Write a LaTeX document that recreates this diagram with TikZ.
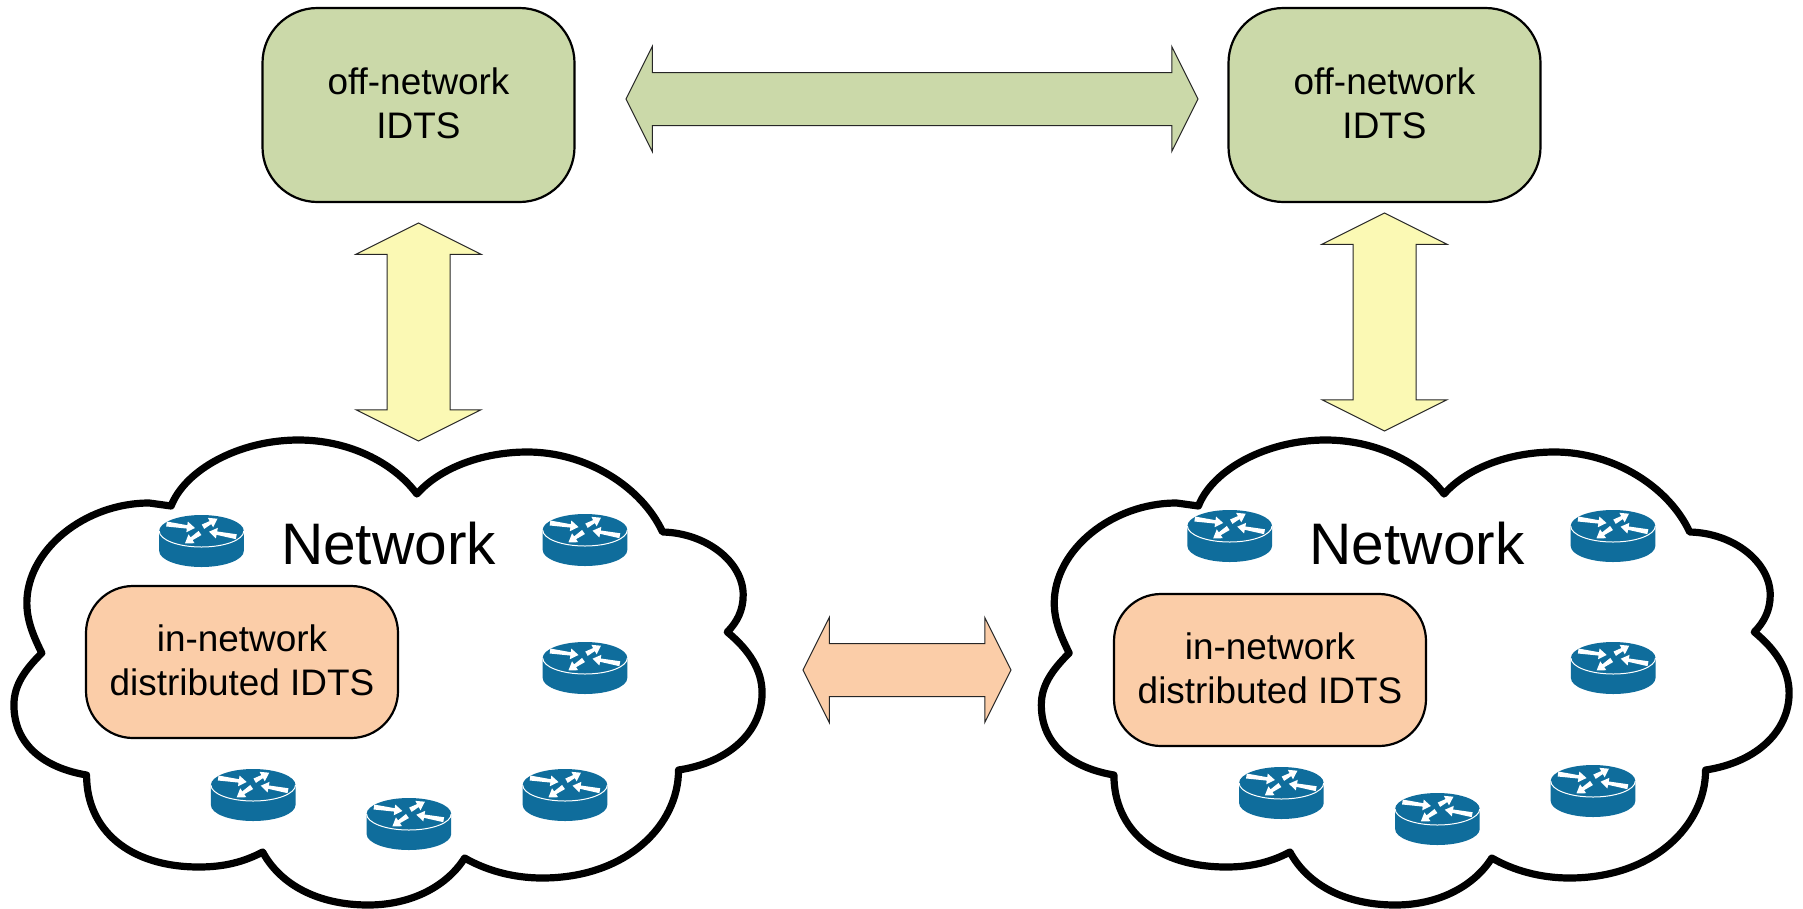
\documentclass[tikz,border=0pt]{standalone}
\usepackage{fontspec}
\setmainfont{Liberation Sans}
\usetikzlibrary{shapes.arrows}
\definecolor{boxgreen}{HTML}{CBD9A9}
\definecolor{boxorange}{HTML}{FBCDA8}
\definecolor{arrowyellow}{HTML}{FBF9B4}
\definecolor{routerblue}{HTML}{0F6D9C}
\tikzset{
  idtsbox/.style={draw=black,line width=2.2pt,rounded corners=55pt,inner sep=0pt,align=center,
    font=\fontsize{36.9}{43.5}\selectfont,minimum width=#1},
  blockarrow/.style={double arrow,draw=black!85,line width=1pt,outer sep=0pt,
    double arrow tip angle=126.87},
  cloudline/.style={draw=black,fill=white,line width=7.2pt,line join=round},
  nettext/.style={font=\fontsize{58.6}{60}\selectfont,inner sep=0pt,anchor=base}
}
\newcommand{\cloudshape}{%
  \path[cloudline] (172,506)
    .. controls (186,470) and (240,440) .. (300,440)
    .. controls (350,440) and (395,462) .. (419,494)
    .. controls (445,465) and (490,452) .. (530,452)
    .. controls (590,452) and (645,487) .. (666,532)
    .. controls (710,533) and (747,562) .. (747,595)
    .. controls (747,610) and (741,622) .. (731,632)
    .. controls (753,650) and (766,670) .. (766,693)
    .. controls (766,730) and (735,762) .. (682,770)
    .. controls (682,825) and (630,878) .. (545,878)
    .. controls (515,878) and (488,870) .. (467,858)
    .. controls (450,885) and (415,905) .. (370,905)
    .. controls (320,905) and (282,885) .. (264,852)
    .. controls (245,862) and (225,867) .. (200,867)
    .. controls (130,867) and (87,830) .. (87,775)
    .. controls (45,768) and (14,745) .. (14,705)
    .. controls (14,685) and (25,670) .. (42,653)
    .. controls (33,635) and (27,620) .. (27,603)
    .. controls (27,550) and (85,503) .. (150,503)
    -- cycle;}
% tapered white arrow inside a router: tail x,y then tip x,y
\newcommand{\rarr}[4]{%
  \pgfmathsetmacro{\rdx}{#3-(#1)}%
  \pgfmathsetmacro{\rdy}{#4-(#2)}%
  \pgfmathsetmacro{\rlen}{veclen(\rdx,\rdy)}%
  \pgfmathsetmacro{\rux}{\rdx/\rlen}%
  \pgfmathsetmacro{\ruy}{\rdy/\rlen}%
  \pgfmathsetmacro{\rbx}{#3-8*\rux}%
  \pgfmathsetmacro{\rby}{#4-8*\ruy}%
  \fill[white]
    ({#1-2.5*\ruy},{#2+2.5*\rux}) --
    ({\rbx-1.7*\ruy},{\rby+1.7*\rux}) --
    ({\rbx-5.4*\ruy},{\rby+5.4*\rux}) --
    (#3,#4) --
    ({\rbx+5.4*\ruy},{\rby-5.4*\rux}) --
    ({\rbx+1.7*\ruy},{\rby-1.7*\rux}) --
    ({#1+2.5*\ruy},{#2-2.5*\rux}) -- cycle;}
\newcommand{\routr}[2]{%
  \begin{scope}[shift={(#1,#2)}]
    \fill[routerblue] (-42.3,16) -- (-42.3,36)
      arc[start angle=180,end angle=360,x radius=42.3pt,y radius=16pt]
      -- (42.3,16)
      arc[start angle=0,end angle=180,x radius=42.3pt,y radius=16pt] -- cycle;
    \draw[white,line width=1pt] (-42.3,16)
      arc[start angle=180,end angle=360,x radius=42.3pt,y radius=16pt];
    \rarr{-35}{9}{-6.5}{13}
    \rarr{1.5}{11.7}{16}{3.7}
    \rarr{34.8}{21.7}{7.5}{16.7}
    \rarr{-1.5}{18}{-16.5}{28.3}
  \end{scope}}
\begin{document}
\begin{tikzpicture}[x=1pt,y=-1pt]
\useasboundingbox (0,0) rectangle (1803,908);
% clouds
\begin{scope}[xscale=0.9949]
\cloudshape
\end{scope}
\begin{scope}[xshift=1027.4pt,xscale=0.9944]
\cloudshape
\end{scope}
% off-network boxes
\node[idtsbox=312pt,fill=boxgreen,minimum height=194pt] (offL) at (418.5,105)
  {off-network\\IDTS\rule[-4pt]{0pt}{0pt}};
\node[idtsbox=312pt,fill=boxgreen,minimum height=194pt] (offR) at (1384.5,105)
  {off-network\\IDTS\rule[-4pt]{0pt}{0pt}};
% in-network boxes
\node[idtsbox=312pt,fill=boxorange,minimum height=152pt,rounded corners=47pt] (inL) at (242,662)
  {in-network\\distributed IDTS\rule[-4pt]{0pt}{0pt}};
\node[idtsbox=312pt,fill=boxorange,minimum height=152pt,rounded corners=47pt] (inR) at (1270,670)
  {in-network\\distributed IDTS\rule[-4pt]{0pt}{0pt}};
% network labels
\node[nettext] (netL) at (388.5,564) {Network};
\node[nettext] (netR) at (1417,564) {Network};
% block arrows
\node[blockarrow,fill=boxgreen,inner sep=26pt,minimum height=572pt,double arrow head extend=26pt] (aTop) at (912,99) {};
\node[blockarrow,fill=boxorange,inner sep=26pt,minimum height=208pt,double arrow head extend=26pt] (aMid) at (907,670) {};
\node[blockarrow,fill=arrowyellow,inner sep=31pt,minimum height=218pt,double arrow head extend=31pt,shape border rotate=90] (aL) at (418.5,332) {};
\node[blockarrow,fill=arrowyellow,inner sep=31pt,minimum height=218pt,double arrow head extend=31pt,shape border rotate=90] (aR) at (1384.5,322) {};
% routers, left cloud
\routr{201.5}{515}
\routr{585}{514}
\routr{585}{642}
\routr{253.2}{769}
\routr{408.9}{798}
\routr{565}{769}
% routers, right cloud
\routr{1229.7}{510}
\routr{1613}{510}
\routr{1613.2}{642}
\routr{1281.4}{767}
\routr{1437.4}{793}
\routr{1593}{765}
\end{tikzpicture}
\end{document}
